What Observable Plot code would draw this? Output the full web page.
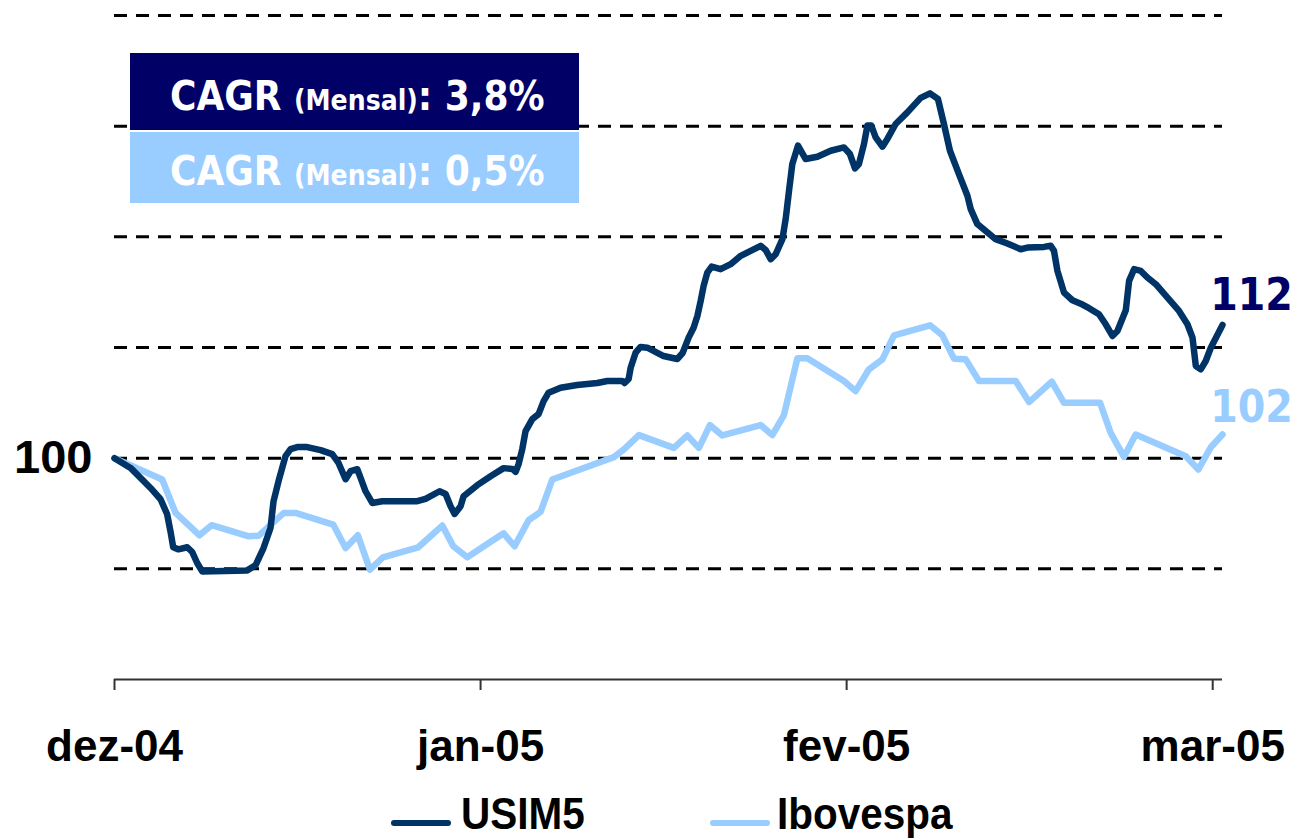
<!DOCTYPE html>
<html>
<head>
<meta charset="utf-8">
<script src="https://cdn.jsdelivr.net/npm/d3@7"></script>
<script src="https://cdn.jsdelivr.net/npm/@observablehq/plot@0.6"></script>
<style>
  html, body { margin: 0; padding: 0; background: #fff; }
  #wrap { position: relative; width: 1293px; height: 840px; overflow: hidden; }
  .box { position: absolute; left: 130px; width: 449px; box-sizing: border-box; padding-left: 40px;
         color: #fff; font-family: 'DejaVu Sans Condensed', 'DejaVu Sans', sans-serif; font-weight: bold;
         font-stretch: condensed; font-size: 40px; line-height: 40px; white-space: nowrap; }
  .box small { font-size: 28px; }
  #legend { position: absolute; left: 391px; top: 792px; height: 44px; width: 700px;
            font-family: 'Liberation Sans', Arial, sans-serif; font-weight: bold;
            font-size: 44px; line-height: 44px; color: #000; }
  .sw { position: absolute; top: 28px; width: 60px; height: 6px; border-radius: 3px; }
  .lt { position: absolute; top: 0; transform: scaleX(0.92); transform-origin: left center; white-space: nowrap; }
</style>
</head>
<body>
<div id="wrap">
  <div id="chart"></div>
  <div class="box" style="top:53px;height:77px;background:#000066;padding-top:23px">CAGR <small>(Mensal)</small>: 3,8%</div>
  <div class="box" style="top:132px;height:71px;background:#99ccff;padding-top:19px">CAGR <small>(Mensal)</small>: 0,5%</div>
  <div id="legend">
    <span class="sw" style="left:0;background:#003366"></span><span class="lt" style="left:70px">USIM5</span>
    <span class="sw" style="left:319px;background:#99ccff"></span><span class="lt" style="left:386px">Ibovespa</span>
  </div>
</div>
<script>
// Days since start (dez-04 = 0), base 100
const usimDias = [0,1.36,3.05,3.90,4.46,4.74,4.97,5.42,6.16,6.58,7.00,7.43,11.24,11.94,12.62,13.21,13.47,13.89,14.48,14.91,15.48,16.32,17.45,18.44,18.97,19.57,19.99,20.56,20.84,21.26,21.83,22.67,25.64,26.34,27.53,28.04,28.46,28.80,29.31,29.56,30.72,31.85,32.95,33.69,33.97,34.22,34.53,34.81,35.38,35.91,36.34,36.76,37.78,39.19,40.89,41.73,43.00,43.20,43.54,43.71,44.13,44.55,45.12,46.50,47.66,48.11,48.62,49.04,49.36,49.64,49.89,50.20,50.57,51.33,52.18,53.03,53.87,54.72,55.14,55.57,55.99,56.56,56.84,57.12,57.40,57.88,58.53,59.52,60.65,61.77,62.28,62.71,63.04,63.47,63.76,64.09,64.46,65.03,65.45,66.15,67.14,68.27,69.06,69.73,70.24,70.75,71.51,72.23,72.51,73.07,74.62,75.61,76.74,77.31,78.72,79.28,79.56,79.85,80.41,81.12,81.82,82.53,83.37,83.94,84.51,84.93,85.64,85.92,86.34,86.91,87.47,88.18,89.17,90.15,90.86,91.29,91.57,91.99,92.41,92.84,93.83];
const usimValores = [100,99.12,97.31,96.29,94.93,93.39,91.95,91.76,91.95,91.52,90.53,89.77,89.86,90.32,91.88,93.69,96.11,97.92,100.18,100.81,101.0,101.0,100.72,100.36,99.57,98.10,98.82,99.0,98.22,97.01,95.95,96.11,96.11,96.32,97.01,96.77,95.66,94.96,95.66,96.56,97.56,98.37,99.10,99.03,98.76,99.46,100.81,102.44,103.53,103.98,105.16,105.91,106.36,106.61,106.79,106.97,106.97,106.79,107.15,108.17,109.53,110.05,109.98,109.23,108.96,109.50,110.89,111.79,112.85,114.21,115.57,116.77,117.31,117.08,117.53,118.28,118.73,119.19,118.82,117.98,118.43,119.79,121.63,124.16,126.58,128.24,127.03,127.24,127.78,128.08,127.48,126.18,126.58,128.39,130.05,130.05,128.99,128.15,128.85,130.20,131.25,132.56,132.97,132.47,130.20,127.78,125.67,123.71,122.50,121.15,119.79,119.39,118.88,119.03,119.09,119.19,118.73,116.92,114.96,114.27,113.96,113.55,113.0,112.10,111.04,111.49,113.36,116.02,117.08,116.92,116.32,115.72,114.51,113.30,112.10,110.89,108.33,108.03,108.78,109.98,112.04];
const ibovDias = [0,4.04,5.17,7.20,8.22,11.38,12.22,14.34,15.33,18.52,19.57,20.61,21.63,22.73,25.72,27.76,28.69,29.87,32.95,33.88,35.07,36.08,37.07,42.29,43.14,44.41,47.37,48.51,49.49,50.42,51.47,54.72,55.71,56.69,57.83,58.67,61.77,62.76,63.89,65.03,66.01,69.06,70.11,71.09,72.08,73.21,76.32,77.45,79.37,80.41,83.46,84.36,85.49,86.48,90.72,91.79,92.84,93.83];
const ibovValores = [100,98.07,95.05,93.03,93.94,92.94,93.0,95.05,95.05,94.0,91.88,93.03,89.93,91.04,91.95,93.91,92.04,91.04,93.21,92.04,94.39,95.14,98.07,100.09,100.79,102.08,100.93,102.05,100.93,102.99,102.05,102.99,102.08,103.89,109.02,109.02,106.97,106.06,108.03,108.93,111.10,112.01,111.10,108.99,108.93,106.97,106.97,105.07,106.92,105.0,105.0,102.29,100.12,102.14,100.18,98.98,100.99,102.14];
const tickDias = [0, 31, 62, 93];
const tickRotulos = ["dez-04", "jan-05", "fev-05", "mar-05"];
const gradeY = [90, 100, 110, 120, 130, 140];
const rotuloY = [100];

const usim = usimDias.map((d, i) => ({d, v: usimValores[i]}));
const ibov = ibovDias.map((d, i) => ({d, v: ibovValores[i]}));
const fimUsim = usim[usim.length - 1];
const fimIbov = ibov[ibov.length - 1];

const chart = Plot.plot({
  width: 1293, height: 780,
  marginLeft: 114, marginRight: 71, marginTop: 15, marginBottom: 101,
  x: {domain: [0, 93.83], axis: null},
  y: {domain: [80, 140], axis: null},
  style: {background: "white"},
  marks: [
    Plot.ruleY(gradeY, {stroke: "#000", strokeWidth: 3, strokeDasharray: "13,9"}),
    Plot.ruleY([80], {stroke: "#333", strokeWidth: 2}),
    Plot.axisX({ticks: tickDias, tickFormat: d => tickRotulos[tickDias.indexOf(d)], label: null,
      tickSize: 11, tickPadding: 39, fontSize: 44, fontWeight: "bold",
      fontFamily: "'Liberation Sans', Arial, sans-serif", stroke: "#333", strokeWidth: 2, fill: "#000"}),
    Plot.axisY({ticks: rotuloY, label: null, tickSize: 0, tickPadding: 22, fontSize: 47, fontWeight: "bold",
      fontFamily: "'Liberation Sans', Arial, sans-serif", fill: "#000"}),
    Plot.line(ibov, {x: "d", y: "v", stroke: "#99ccff", strokeWidth: 6.5, strokeLinejoin: "round", strokeLinecap: "round"}),
    Plot.line(usim, {x: "d", y: "v", stroke: "#003366", strokeWidth: 6.5, strokeLinejoin: "round", strokeLinecap: "round"}),
    Plot.text([fimUsim], {x: "d", y: "v", text: d => String(Math.round(d.v)), dx: 29, dy: -29,
      fill: "#000066", fontSize: 44, fontWeight: "bold", fontFamily: "'DejaVu Sans Condensed', 'DejaVu Sans', sans-serif"}),
    Plot.text([fimIbov], {x: "d", y: "v", text: d => String(Math.round(d.v)), dx: 29, dy: -27,
      fill: "#99ccff", fontSize: 44, fontWeight: "bold", fontFamily: "'DejaVu Sans Condensed', 'DejaVu Sans', sans-serif"})
  ]
});
document.getElementById("chart").appendChild(chart);
</script>
</body>
</html>
